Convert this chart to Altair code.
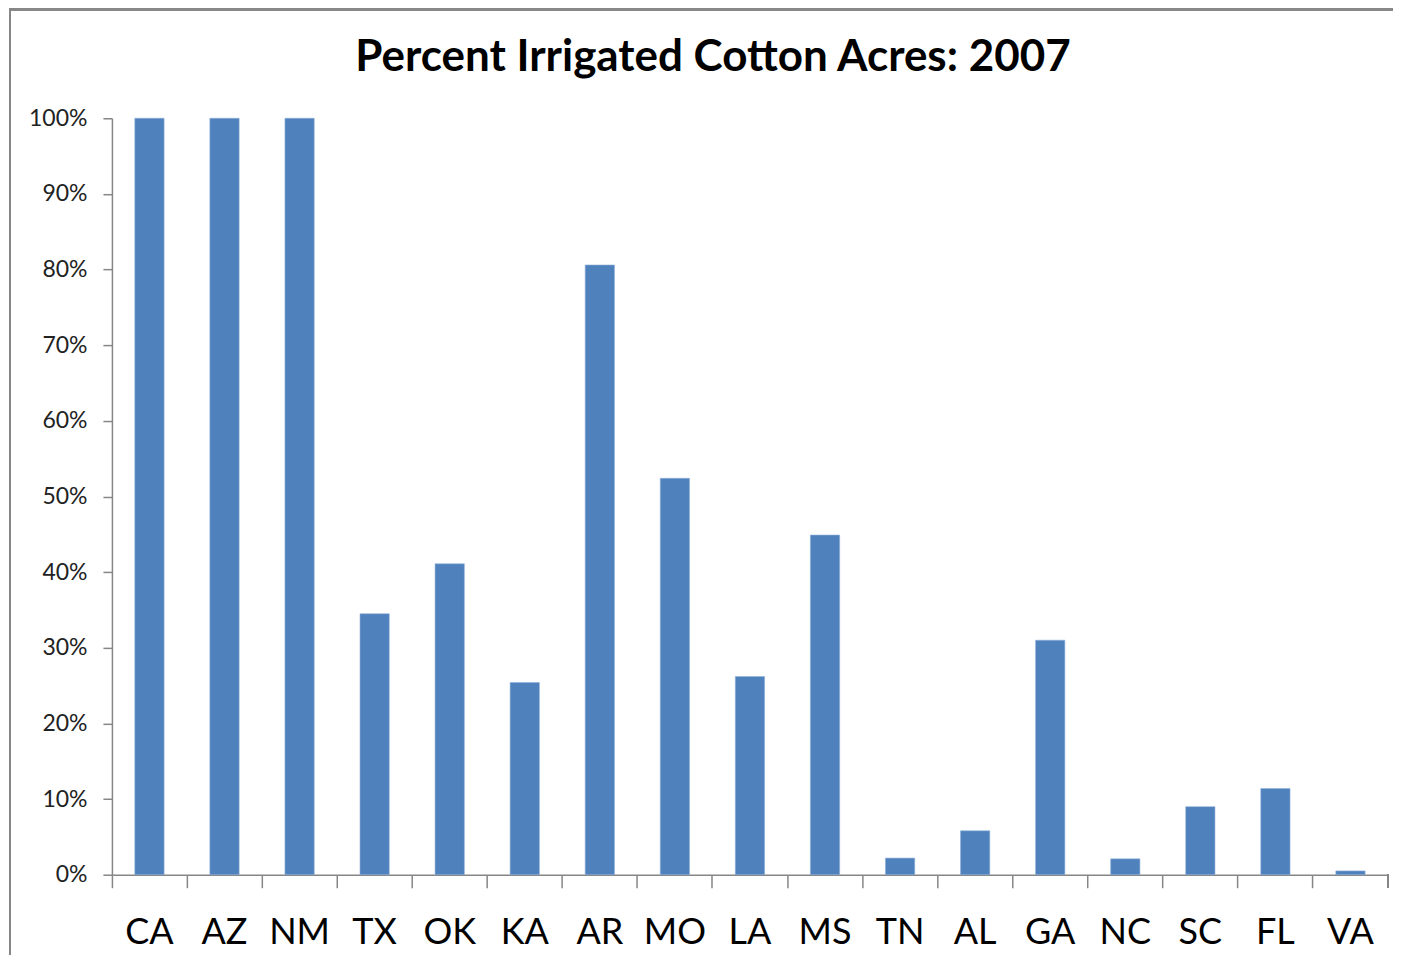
import altair as alt
import pandas as pd

states = ["CA", "AZ", "NM", "TX", "OK", "KA", "AR", "MO", "LA", "MS",
          "TN", "AL", "GA", "NC", "SC", "FL", "VA"]
pct = [100, 100, 100, 34.5, 41.1, 25.4, 80.6, 52.4, 26.2, 44.9,
       2.2, 5.8, 31.0, 2.1, 9.0, 11.4, 0.5]

df = pd.DataFrame({"state": states, "pct": [p / 100 for p in pct]})

W, H = 1277, 757
FONT = "Lato"

xenc = alt.X("state:N", sort=states,
             scale=alt.Scale(paddingInner=0, paddingOuter=0),
             axis=alt.Axis(title=None, labelAngle=0, labelFontSize=36, labelFont=FONT,
                           labelColor="#000000", labelPadding=28, bandPosition=0,
                           tickSize=13, tickColor="#868686", domainColor="#868686",
                           domainWidth=1.5, tickWidth=1.5))

bars = alt.Chart(df).mark_bar(color="#4F81BD", stroke="#8FB0D8", strokeWidth=0.6,
                              width=alt.RelativeBandSize(0.39)).encode(
    x=xenc,
    y=alt.Y("pct:Q", scale=alt.Scale(domain=[0, 1]),
            axis=alt.Axis(title=None, format=".0%", values=[i / 10 for i in range(11)],
                          labelFontSize=23, labelFont=FONT, labelColor="#222222",
                          labelPadding=16, tickSize=9, tickColor="#868686",
                          domainColor="#868686", domainWidth=1.5, tickWidth=1.5,
                          grid=False)),
)

end_tick = alt.Chart(df).mark_rule(color="#868686", strokeWidth=1.5).encode(
    x=alt.value(W), y=alt.value(H), y2=alt.value(H + 13)
)

border_top = alt.Chart(df).mark_rule(color="#878787", strokeWidth=2).encode(
    x=alt.value(-102), x2=alt.value(1290), y=alt.value(-109)
)
border_left = alt.Chart(df).mark_rule(color="#878787", strokeWidth=2).encode(
    x=alt.value(-102), y=alt.value(-110), y2=alt.value(845)
)

chart = alt.layer(bars, end_tick, border_top, border_left).properties(
    width=W, height=H,
    title=alt.TitleParams("Percent Irrigated Cotton Acres: 2007", fontSize=44,
                          font=FONT, fontWeight="bold", color="#000000",
                          anchor="middle", frame="group", dx=-37, offset=-73),
    autosize=alt.AutoSizeParams(type="none"),
    padding={"left": 104, "top": 110, "right": 5, "bottom": 80},
).configure_view(stroke=None)

chart.save("out.html", embed_options={"renderer": "svg", "actions": False})
